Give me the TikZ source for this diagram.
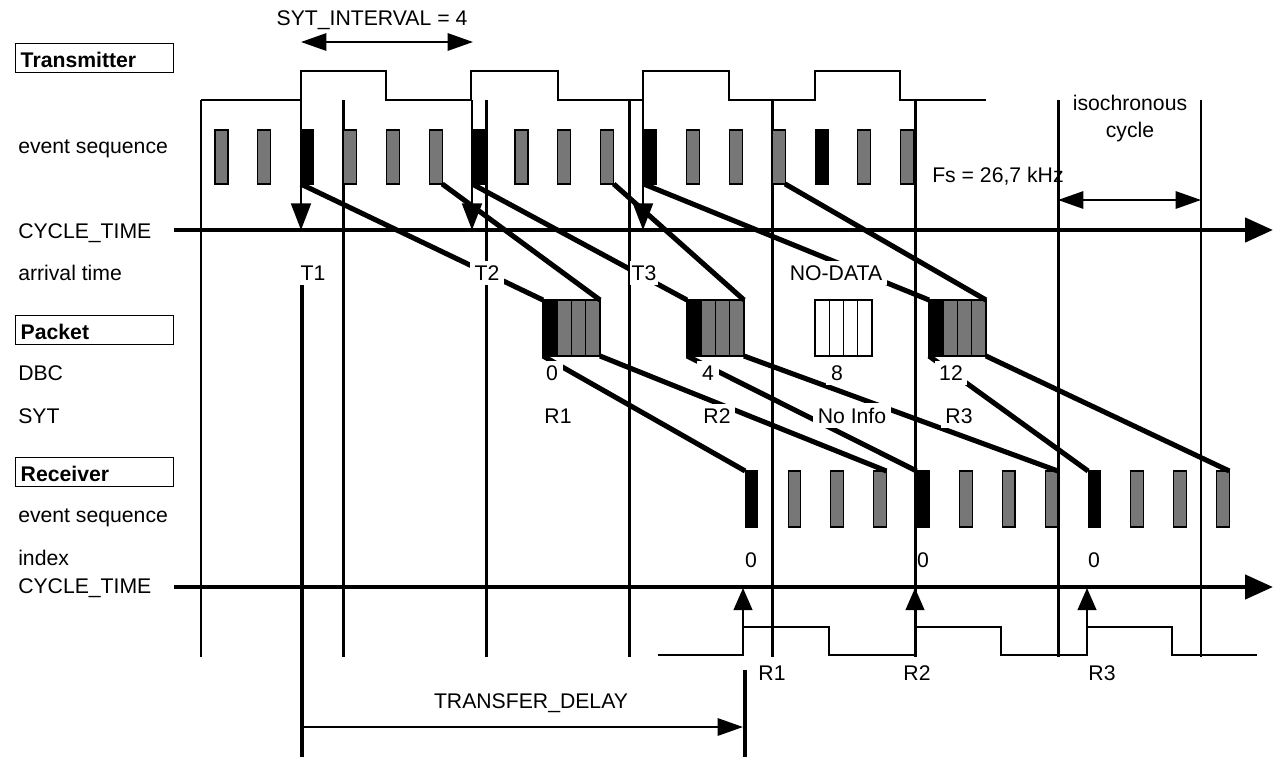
\documentclass[tikz,border=0pt]{standalone}
\usepackage{fontspec}
\setmainfont{Liberation Sans}
\usetikzlibrary{arrows.meta}
\definecolor{evgray}{RGB}{119,119,119}
\begin{document}
\begin{tikzpicture}[x=0.75pt,y=-0.75pt,font=\fontsize{15.9}{18}\selectfont]
\tikzset{
  gridln/.style={line width=2.2pt},
  wave/.style={line width=1.6pt},
  axisln/.style={line width=3.4pt,-{Triangle[length=21pt,width=18pt]}},
  thickln/.style={line width=3.8pt},
  tdline/.style={line width=3.6pt},
  smarrow/.style={line width=1.5pt,-{Triangle[length=20pt,width=15pt]}},
  uparrow/.style={line width=1.5pt,-{Triangle[length=16.5pt,width=14pt]}},
  dblarrow/.style={line width=1.5pt,{Triangle[length=19pt,width=13pt]}-{Triangle[length=19pt,width=13pt]}},
  onearrow/.style={line width=1.5pt,-{Triangle[length=19pt,width=13pt]}},
  txev/.style={draw,line width=0.8pt,minimum width=9.75pt,minimum height=40.5pt,inner sep=0pt,outer sep=0pt},
  rxev/.style={draw,line width=0.8pt,minimum width=9.5pt,minimum height=42pt,inner sep=0pt,outer sep=0pt},
  pkcell/.style={draw,line width=0.9pt,minimum width=10.7pt,minimum height=42pt,inner sep=0pt,outer sep=0pt},
  lab/.style={inner sep=0pt},
  wlab/.style={fill=white,inner sep=3.5pt},
  namebox/.style={draw,line width=1.1pt,minimum width=118.5pt,minimum height=21.75pt,text width=111pt,text height=13.5pt,text depth=0pt,inner xsep=3.75pt,inner ysep=0pt,align=left,font=\fontsize{15.9}{18}\selectfont\bfseries}
}
\useasboundingbox (0,0) rectangle (1279,757);

% vertical grid lines
\foreach \i in {0,...,7} {
  \pgfmathsetmacro\gx{201+\i*142.86}
  \draw[gridln] (\gx,100) -- (\gx,657);
}

% transmitter clock waveform
\draw[wave] (201,100) -- (301,100) |- (386,71) |- (471,100) |- (558,71) |- (643,100) |- (729,71) |- (815,100) |- (900,71) |- (986,100);
% receiver clock waveform
\draw[wave] (658,655) -- (743,655) |- (829,627) |- (915,655) |- (1001,627) |- (1087,655) |- (1172,627) |- (1257,655);

% CYCLE_TIME axes
\coordinate (ax1s) at (174,230); \coordinate (ax1e) at (1273,230);
\coordinate (ax2s) at (174,587); \coordinate (ax2e) at (1273,587);
\draw[axisln] (ax1s) -- (ax1e);
\draw[axisln] (ax2s) -- (ax2e);

% transmitter events
\foreach \k in {0,...,16} {
  \pgfmathsetmacro\xx{215+\k*42.86+6.5}
  \pgfmathtruncatemacro\m{mod(\k,4)}
  \ifnum\m=2 \def\fc{black}\else\def\fc{evgray}\fi
  \node[txev,fill=\fc] (e\k) at (\xx,157) {};
}
% receiver events
\foreach \k in {0,...,11} {
  \pgfmathsetmacro\xx{745+\k*42.86+6.5}
  \pgfmathtruncatemacro\m{mod(\k,4)}
  \ifnum\m=0 \def\fc{black}\else\def\fc{evgray}\fi
  \node[rxev,fill=\fc] (r\k) at (\xx,499) {};
}
% packets
\foreach \p/\L in {1/543,2/687,3/815,4/929} {
  \foreach \j/\c in {0/a,1/b,2/c,3/d} {
    \pgfmathsetmacro\xx{\L+(\j+0.5)*14.25}
    \ifnum\p=3 \def\fc{white}\else\ifnum\j=0 \def\fc{black}\else\def\fc{evgray}\fi\fi
    \node[pkcell,fill=\fc] (p\p\c) at (\xx,328) {};
  }
}

% timestamp arrows (transmitter)
\coordinate (a1t) at (301,100); \coordinate (a1b) at (301,230);
\coordinate (a2t) at (472,100); \coordinate (a2b) at (472,230);
\coordinate (a3t) at (643,100); \coordinate (a3b) at (643,230);
\draw[smarrow] (a1t) -- (a1b);
\draw[smarrow] (a2t) -- (a2b);
\draw[smarrow] (a3t) -- (a3b);

% presentation arrows (receiver)
\coordinate (b1b) at (743,655); \coordinate (b1t) at (743,588);
\coordinate (b2b) at (915,655); \coordinate (b2t) at (915,588);
\coordinate (b3b) at (1087,655); \coordinate (b3t) at (1087,588);
\draw[uparrow] (b1b) -- (b1t);
\draw[uparrow] (b2b) -- (b2t);
\draw[uparrow] (b3b) -- (b3t);

% events -> packets
\draw[thickln] (e2.south west) -- (p1a.north west);
\draw[thickln] (e5.south east) -- (p1d.north east);
\draw[thickln] (e6.south west) -- (p2a.north west);
\draw[thickln] (e9.south east) -- (p2d.north east);
\draw[thickln] (e10.south west) -- (p4a.north west);
\draw[thickln] (e13.south east) -- (p4d.north east);
% packets -> receiver
\draw[thickln] (p1a.south west) -- (r0.north west);
\draw[thickln] (p1d.south east) -- (r3.north east);
\draw[thickln] (p2a.south west) -- (r4.north west);
\draw[thickln] (p2d.south east) -- (r7.north east);
\draw[thickln] (p4a.south west) -- (r8.north west);
\draw[thickln] (p4d.south east) -- (r11.north east);

% SYT_INTERVAL and isochronous cycle
\coordinate (s1) at (301,42); \coordinate (s2) at (473,42);
\draw[dblarrow] (s1) -- (s2);
\coordinate (i1) at (1058,200); \coordinate (i2) at (1201,200);
\draw[dblarrow] (i1) -- (i2);

% transfer delay
\coordinate (tdt) at (302,285); \coordinate (tdb) at (302,757);
\coordinate (rdt) at (745,670); \coordinate (rdb) at (745,757);
\draw[tdline] (tdt) -- (tdb);
\draw[tdline] (rdt) -- (rdb);
\coordinate (tda) at (302,727); \coordinate (tdz) at (743,727);
\draw[onearrow] (tda) -- (tdz);

% left labels and boxes
\node[namebox,anchor=north west] (btx) at (15,43) {Transmitter};
\node[namebox,anchor=north west] (bpk) at (15,315) {Packet};
\node[namebox,anchor=north west] (brx) at (15,457) {Receiver};
\node[lab,anchor=base west] (ltx) at (18,153) {event sequence};
\node[lab,anchor=base west] (lct1) at (18,238) {CYCLE\_TIME};
\node[lab,anchor=base west] (lat) at (18,280) {arrival time};
\node[lab,anchor=base west] (ldbc) at (18,380) {DBC};
\node[lab,anchor=base west] (lsyt) at (18,423) {SYT};
\node[lab,anchor=base west] (lrx) at (18,522) {event sequence};
\node[lab,anchor=base west] (lidx) at (18,565) {index};
\node[lab,anchor=base west] (lct2) at (18,593) {CYCLE\_TIME};

% other labels
\node[lab,anchor=base] (sytl) at (372,25) {SYT\_INTERVAL = 4};
\node[lab,anchor=base west] (fsl) at (932,182) {Fs = 26,7 kHz};
\node[lab,anchor=base] (iso1) at (1130,110) {isochronous};
\node[lab,anchor=base] (iso2) at (1130,137) {cycle};
\node[lab,anchor=base] (t1) at (313,280) {T1};
\node[wlab,anchor=base] (t2) at (487,280) {T2};
\node[wlab,anchor=base,inner xsep=1.5pt] (t3) at (644,280) {T3};
\node[wlab,anchor=base] (nod) at (836,280) {NO-DATA};
\node[wlab,anchor=base] (d0) at (552,380) {0};
\node[wlab,anchor=base] (d4) at (708,380) {4};
\node[wlab,anchor=base] (d8) at (837,380) {8};
\node[wlab,anchor=base] (d12) at (951,380) {12};
\node[wlab,anchor=base] (s1l) at (558,423) {R1};
\node[wlab,anchor=base] (s2l) at (717,423) {R2};
\node[wlab,anchor=base] (s3l) at (852,423) {No Info};
\node[wlab,anchor=base] (s4l) at (959,423) {R3};
\node[lab,anchor=base] (ix1) at (751,567) {0};
\node[lab,anchor=base] (ix2) at (923,567) {0};
\node[lab,anchor=base] (ix3) at (1094,567) {0};
\node[lab,anchor=base] (rr1) at (772,680) {R1};
\node[lab,anchor=base] (rr2) at (917,680) {R2};
\node[lab,anchor=base] (rr3) at (1102,680) {R3};
\node[lab,anchor=base] (tdl) at (531,708) {TRANSFER\_DELAY};
\end{tikzpicture}
\end{document}
